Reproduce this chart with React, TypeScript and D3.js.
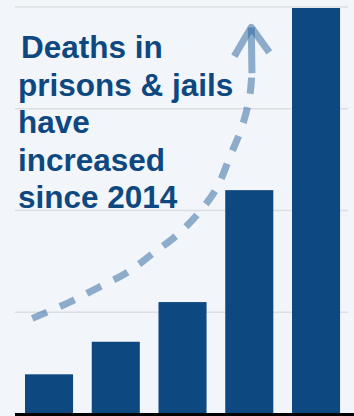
import React from 'react';
import * as d3 from 'd3';

const years = ['2014', '2015', '2016', '2017', '2018'];
const deathsIndex = [0.39, 0.71, 1.1, 2.2, 3.99];
const gridTicks = [1, 2, 3, 4];
const titleLines = ['Deaths in', 'prisons & jails', 'have', 'increased', 'since 2014'];
// trend arrow annotation, in (category index, value) units
const arrowIdx = [-0.25, 0.31, 0.73, 1.17, 1.56, 1.92, 2.26, 2.52, 2.71, 2.89, 3.01, 3.04];
const arrowVal = [0.94, 1.1, 1.24, 1.39, 1.58, 1.76, 1.99, 2.23, 2.53, 2.82, 3.14, 3.38];
const arrowTip = { idx: 3.03, val: 3.80 };

const BLUE = '#0e4880';

export default function App() {
  const W = 354;
  const H = 416;
  const x = d3
    .scaleBand<string>()
    .domain(years)
    .range([15.65, 349.4])
    .paddingInner(0.28)
    .paddingOuter(0.14);
  const y = d3.scaleLinear().domain([0, 4]).range([414, 7]);
  const bw = x.bandwidth();
  const xi = d3
    .scaleLinear()
    .domain([0, years.length - 1])
    .range([(x(years[0]) as number) + bw / 2, (x(years[years.length - 1]) as number) + bw / 2]);

  const pts: [number, number][] = arrowIdx.map((d, i) => [xi(d), y(arrowVal[i])]);
  const line = d3.line().curve(d3.curveCatmullRom.alpha(0.5));
  const last = pts[pts.length - 1];
  const tip: [number, number] = [xi(arrowTip.idx), y(arrowTip.val)];

  return (
    <svg
      width={W}
      height={H}
      style={{ position: 'absolute', left: 0, top: 0, display: 'block' }}
    >
      <rect x={0} y={0} width={W} height={H} fill="#f2f5f9" />
      {gridTicks.map((t) => (
        <line key={t} x1={15} x2={348} y1={y(t)} y2={y(t)} stroke="#dcdee2" strokeWidth={1.5} />
      ))}
      {years.map((yr, i) => (
        <rect
          key={yr}
          x={x(yr)}
          y={y(deathsIndex[i])}
          width={bw}
          height={y(0) - y(deathsIndex[i])}
          fill={BLUE}
        />
      ))}
      <line x1={15} x2={W} y1={y(0) + 0.5} y2={y(0) + 0.5} stroke="#000" strokeWidth={3} />
      <g
        fontFamily="'Liberation Sans', Arial, sans-serif"
        fontWeight="bold"
        fontSize={31.5}
        fill={BLUE}
      >
        {titleLines.map((t, i) => (
          <text key={t} x={i === 0 ? 21 : 18} y={58.3 + i * 37.5}>
            {t}
          </text>
        ))}
      </g>
      <g stroke="#27619c" strokeOpacity={0.5} fill="none" strokeWidth={7}>
        <path d={line(pts) || ''} strokeDasharray="16 14" />
        <path d={`M${last[0]},${last[1] + 3}L${tip[0]},${tip[1]}`} />
        <path
          d={`M${tip[0] - 17},${tip[1] + 29}L${tip[0]},${tip[1]}L${tip[0] + 18},${tip[1] + 25}`}
          strokeLinejoin="round"
        />
      </g>
    </svg>
  );
}
